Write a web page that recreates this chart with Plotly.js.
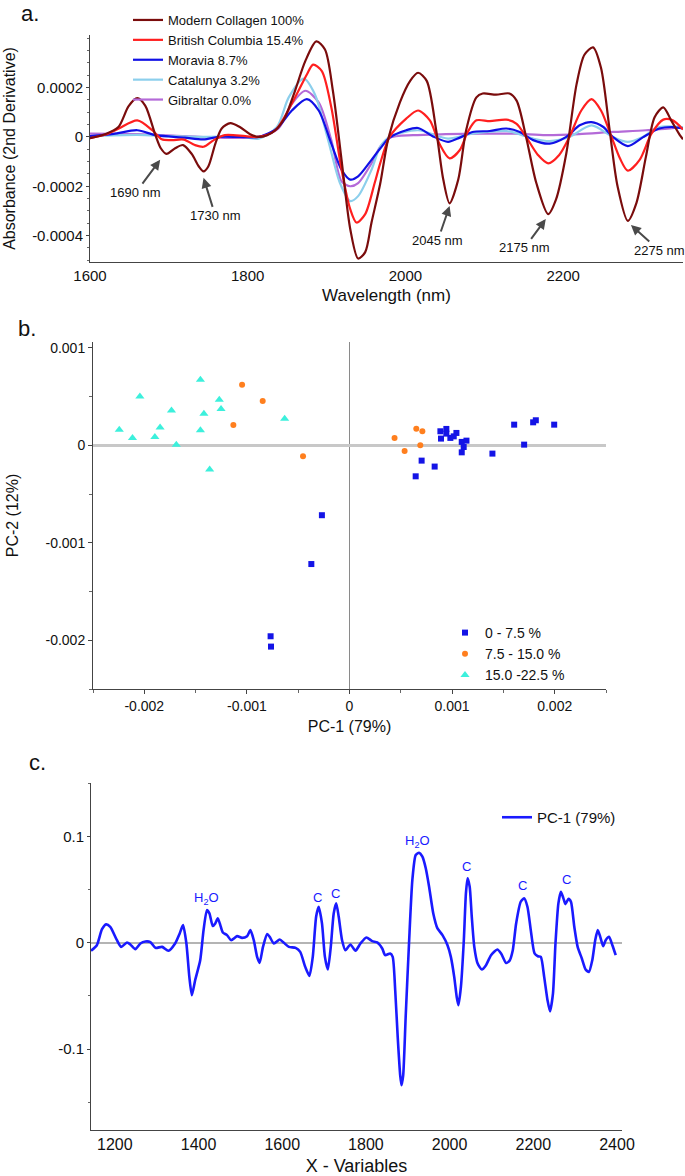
<!DOCTYPE html>
<html>
<head>
<meta charset="utf-8">
<script src="https://cdn.plot.ly/plotly-3.0.1.min.js"></script>
<style>html,body{margin:0;padding:0;background:#fff;}#chart{width:685px;height:1176px;}</style>
</head>
<body>
<div id="chart"></div>
<script>
// ---------- Panel a: 2nd derivative spectra ----------
const seriesNames = ['Modern Collagen 100%', 'British Columbia 15.4%', 'Moravia 8.7%', 'Catalunya 3.2%', 'Gibraltar 0.0%'];

const modernX = [1600,1619,1636,1649,1660,1670,1683,1690,1697,1708,1718,1729,1738,1744,1750,1759,1767,1778,1790,1803,1814,1824,1835,1847,1860,1873,1887,1898,1908,1919,1930,1940,1949,1957,1968,1978,1993,2006,2016,2027,2039,2048,2056,2067,2077,2090,2098,2115,2132,2141,2153,2166,2181,2191,2204,2217,2227,2238,2248,2259,2269,2282,2293,2305,2316,2327,2337,2348,2352];
const modernY = [-5e-6,11e-6,40e-6,125e-6,157e-6,127e-6,7e-6,-47e-6,-69e-6,-46e-6,-33e-6,-69e-6,-120e-6,-140e-6,-120e-6,-27e-6,34e-6,56e-6,40e-6,11e-6,0,6e-6,27e-6,78e-6,187e-6,307e-6,387e-6,354e-6,187e-6,-93e-6,-373e-6,-493e-6,-467e-6,-347e-6,-190e-6,-10e-6,140e-6,227e-6,260e-6,227e-6,27e-6,-173e-6,-269e-6,-173e-6,27e-6,160e-6,176e-6,171e-6,176e-6,147e-6,0,-187e-6,-313e-6,-253e-6,-67e-6,213e-6,333e-6,363e-6,280e-6,27e-6,-200e-6,-340e-6,-267e-6,-80e-6,80e-6,120e-6,67e-6,7e-6,-10e-6];

const britishX = [1600,1620,1636,1660,1679,1691,1704,1719,1733,1744,1757,1771,1797,1814,1835,1860,1875,1883,1894,1906,1919,1930,1938,1949,1961,1968,1980,2001,2016,2031,2043,2056,2069,2079,2090,2107,2128,2141,2153,2168,2181,2195,2208,2223,2236,2248,2261,2272,2282,2297,2312,2327,2339,2352];
const britishY = [-5e-6,10e-6,33e-6,67e-6,27e-6,-10e-6,-13e-6,-11e-6,-33e-6,-40e-6,-13e-6,7e-6,3e-6,0,27e-6,160e-6,253e-6,293e-6,267e-6,120e-6,-133e-6,-293e-6,-347e-6,-313e-6,-187e-6,-107e-6,0,74e-6,107e-6,67e-6,-27e-6,-87e-6,-53e-6,20e-6,67e-6,64e-6,70e-6,53e-6,0,-73e-6,-107e-6,-73e-6,0,107e-6,153e-6,107e-6,3e-6,-87e-6,-137e-6,-93e-6,13e-6,70e-6,67e-6,30e-6];

const moraviaX = [1600,1630,1660,1683,1720,1744,1763,1790,1814,1837,1856,1875,1890,1906,1919,1930,1940,1957,1968,1980,2001,2016,2035,2054,2069,2085,2107,2128,2145,2162,2183,2204,2221,2236,2251,2263,2282,2301,2322,2339,2352];
const moraviaY = [3e-6,12e-6,27e-6,7e-6,-3e-6,-10e-6,0,0,0,34e-6,107e-6,153e-6,107e-6,-27e-6,-133e-6,-173e-6,-160e-6,-93e-6,-47e-6,-3e-6,27e-6,36e-6,2e-6,-20e-6,-3e-6,20e-6,24e-6,34e-6,20e-6,-13e-6,-27e-6,0,47e-6,60e-6,40e-6,0,-37e-6,-2e-6,34e-6,40e-6,34e-6];

const catalunyaX = [1600,1660,1700,1744,1790,1814,1837,1852,1871,1885,1902,1917,1930,1940,1957,1968,1980,2016,2054,2085,2128,2162,2183,2208,2236,2263,2282,2301,2322,2352];
const catalunyaY = [3e-6,8e-6,3e-6,0,2e-6,-7e-6,40e-6,160e-6,236e-6,174e-6,-13e-6,-187e-6,-260e-6,-240e-6,-133e-6,-40e-6,0,27e-6,-7e-6,13e-6,24e-6,-7e-6,-17e-6,0,47e-6,0,-20e-6,0,40e-6,40e-6];

const gibraltarX = [1600,1660,1720,1763,1814,1839,1856,1873,1890,1906,1919,1930,1940,1957,1968,1980,2010,2051,2094,2140,2178,2220,2263,2305,2352];
const gibraltarY = [13e-6,11e-6,3e-6,-3e-6,0,34e-6,134e-6,187e-6,140e-6,-13e-6,-180e-6,-200e-6,-187e-6,-107e-6,-40e-6,-3e-6,7e-6,11e-6,13e-6,13e-6,7e-6,11e-6,20e-6,27e-6,40e-6];

const aXTicks = [1600, 1800, 2000, 2200];
const aYTicks = [0.0002, 0, -0.0002, -0.0004];
const aYTickText = ['0.0002', '0', '-0.0002', '-0.0004'];

const peakLabels = ['1690 nm', '1730 nm', '2045 nm', '2175 nm', '2275 nm'];
const peakHeadX = [1689, 1744, 2056, 2178, 2286];
const peakHeadY = [-0.000093, -0.000166, -0.00028, -0.000333, -0.000357];
const peakTextX = [1658, 1759, 2041, 2151, 2322];
const peakTextY = [-0.000226, -0.00032, -0.00042, -0.00045, -0.00046];

// ---------- Panel b: PCA scores ----------
const groupNames = ['0 - 7.5 %', '7.5 - 15.0 %', '15.0 -22.5 %'];
const lowPC1 = [-0.000269,-0.000372,-0.000769,-0.000765,0.000886,0.000944,0.000944,0.000892,0.000983,0.001016,0.001042,0.001094,0.00114,0.001113,0.001094,0.000703,0.00083,0.000645,0.001393,0.001605,0.001702,0.00179,0.001816,0.001995];
const lowPC2 = [-0.000717,-0.001218,-0.001959,-0.002065,0.000144,0.000168,0.00012,0.000069,0.000076,0.000092,0.000127,0.000035,0.000048,-0.000017,-0.000072,-0.000157,-0.000218,-0.000318,-0.000085,0.000212,0.000007,0.000236,0.000257,0.000212];
const midPC1 = [-0.001047,-0.000846,-0.001132,-0.000453,0.000439,0.000537,0.000651,0.00071,0.00069];
const midPC2 = [0.000621,0.000454,0.000208,-0.000113,0.000076,-0.000058,0.000171,0.000144,0.0];
const highPC1 = [-0.002244,-0.002115,-0.002043,-0.001897,-0.001846,-0.001735,-0.001688,-0.001453,-0.001453,-0.001419,-0.001269,-0.001252,-0.001363,-0.000632];
const highPC2 = [0.00016,0.000075,0.000502,0.000085,0.000184,0.000358,0.000007,0.000672,0.000154,0.000324,0.000468,0.000372,-0.000249,0.000273];

const bXTicks = [-0.002, -0.001, 0, 0.001, 0.002];
const bXTickText = ['-0.002', '-0.001', '0', '0.001', '0.002'];
const bYTicks = [0.001, 0, -0.001, -0.002];
const bYTickText = ['0.001', '0', '-0.001', '-0.002'];

// ---------- Panel c: PC-1 loadings ----------
const loadX = [1143,1157,1169,1179,1189,1205,1215,1229,1237,1249,1261,1273,1285,1297,1313,1328,1344,1355,1363,1371,1378,1384,1392,1404,1412,1420,1426,1434,1440,1446,1452,1458,1468,1478,1492,1504,1516,1524,1532,1540,1546,1554,1564,1570,1580,1594,1604,1616,1632,1643,1655,1665,1673,1681,1687,1695,1702,1709,1716,1723,1729,1735,1743,1751,1763,1775,1787,1801,1815,1827,1839,1846,1858,1864,1870,1876,1882,1885,1889,1895,1903,1911,1919,1927,1935,1943,1951,1961,1971,1983,1995,2003,2011,2017,2021,2027,2034,2039,2043,2048,2053,2059,2067,2077,2087,2099,2114,2123,2135,2143,2151,2159,2170,2178,2186,2194,2203,2211,2218,2226,2234,2240,2247,2253,2260,2266,2272,2277,2284,2290,2298,2306,2316,2325,2333,2341,2348,2354,2360,2367,2373,2381,2389,2397];
const loadY = [-0.0075,-0.0022,0.0126,0.0174,0.0151,0.0025,-0.0038,0.0003,-0.0015,-0.006,-0.0006,0.0013,0.0007,-0.0047,-0.0038,-0.0075,-0.0006,0.0089,0.0167,-0.0006,-0.032,-0.0493,-0.035,-0.0163,0.012,0.0308,0.0277,0.0158,0.0183,0.023,0.0167,0.0098,0.0073,0.0025,0.0063,0.0047,0.0063,0.012,0.0025,-0.0132,-0.0189,-0.0038,0.0082,0.0057,-0.0006,0.0032,0,-0.0038,-0.0047,-0.0085,-0.0226,-0.0311,-0.0132,0.0245,0.034,0.0183,-0.0132,-0.0251,-0.0038,0.0277,0.0372,0.0245,0.0025,-0.0069,-0.0015,-0.0075,-0.0006,0.0051,0.0016,0.0004,-0.0053,-0.0116,-0.01,-0.0132,-0.0446,-0.0887,-0.125,-0.134,-0.125,-0.0698,-0.0006,0.0592,0.0827,0.0849,0.0811,0.0702,0.0528,0.0277,0.0136,0.0073,-0.0022,-0.0132,-0.032,-0.051,-0.0588,-0.0415,0.0025,0.0466,0.0608,0.0528,0.0245,-0.0038,-0.0195,-0.0251,-0.021,-0.0116,-0.0063,-0.01,-0.0189,-0.017,-0.0069,0.0183,0.0387,0.0419,0.034,0.012,-0.01,-0.0126,-0.0132,-0.032,-0.054,-0.0645,-0.0478,-0.0006,0.0372,0.0481,0.0419,0.0365,0.0415,0.0387,0.0151,-0.0038,-0.0147,-0.0251,-0.0274,-0.0163,0.0025,0.012,0.0057,-0.0031,0.0025,0.0057,-0.0022,-0.0116];

const cXTicks = [1200, 1400, 1600, 1800, 2000, 2200, 2400];
const cYTicks = [0.1, 0, -0.1];
const cYTickText = ['0.1', '0', '-0.1'];

const bandLabels = ['H<sub>2</sub>O', 'C', 'C', 'H<sub>2</sub>O', 'C', 'C', 'C'];
const bandX = [1420, 1684, 1728, 1923, 2041, 2175, 2280];
const bandY = [0.0419, 0.0428, 0.0466, 0.0953, 0.0717, 0.0544, 0.0598];

// ---------- styles ----------
const FONT = 'Liberation Sans, Arial, sans-serif';
const W = 685, H = 1176;
const px = v => v / W;
const py = v => 1 - v / H;

const specColors = ['#7a0c0c', '#ff1f1f', '#1010e6', '#8ccfec', '#b46ad8'];
const specX = [modernX, britishX, moraviaX, catalunyaX, gibraltarX];
const specY = [modernY, britishY, moraviaY, catalunyaY, gibraltarY];
const drawOrder = [4, 3, 2, 1, 0];

const traces = [];
drawOrder.forEach(i => {
  traces.push({
    type: 'scatter', mode: 'lines', x: specX[i], y: specY[i], name: seriesNames[i],
    line: {color: specColors[i], width: 2.2, shape: 'spline', smoothing: 0.8},
    xaxis: 'x', yaxis: 'y', legend: 'legend', legendrank: i + 1, hoverinfo: 'skip'
  });
});

traces.push({type: 'scatter', mode: 'markers', x: lowPC1, y: lowPC2, name: groupNames[0],
  marker: {symbol: 'square', size: 6, color: '#1414e6'}, xaxis: 'x2', yaxis: 'y2', legend: 'legend2', legendrank: 1});
traces.push({type: 'scatter', mode: 'markers', x: midPC1, y: midPC2, name: groupNames[1],
  marker: {symbol: 'circle', size: 6, color: '#ff7f1e'}, xaxis: 'x2', yaxis: 'y2', legend: 'legend2', legendrank: 2});
traces.push({type: 'scatter', mode: 'markers', x: highPC1, y: highPC2, name: groupNames[2],
  marker: {symbol: 'triangle-up', size: 8, color: '#3cf0dc'}, xaxis: 'x2', yaxis: 'y2', legend: 'legend2', legendrank: 3});

traces.push({type: 'scatter', mode: 'lines', x: loadX, y: loadY, name: 'PC-1 (79%)',
  line: {color: '#1a1aff', width: 2.6, shape: 'spline', smoothing: 0.6},
  xaxis: 'x3', yaxis: 'y3', legend: 'legend3'});

const annotations = [];
peakLabels.forEach((t, i) => {
  annotations.push({xref: 'x', yref: 'y', axref: 'x', ayref: 'y', x: peakHeadX[i], y: peakHeadY[i],
    ax: peakTextX[i], ay: peakTextY[i], text: t, showarrow: true, arrowhead: 2, arrowsize: 1,
    arrowwidth: 2, arrowcolor: '#4a4a4a', standoff: 0, startstandoff: 0,
    font: {family: FONT, size: 13, color: '#111'}});
});
bandLabels.forEach((t, i) => {
  annotations.push({xref: 'x3', yref: 'y3', x: bandX[i], y: bandY[i], text: t, showarrow: false,
    font: {family: FONT, size: 13, color: '#1a1aff'}});
});
[['a.', 30, 13], ['b.', 27, 328], ['c.', 37, 762]].forEach(p => {
  annotations.push({xref: 'paper', yref: 'paper', x: px(p[1]), y: py(p[2]), text: p[0], showarrow: false,
    xanchor: 'center', yanchor: 'middle', font: {family: FONT, size: 22, color: '#111'}});
});

const axisBase = {showgrid: false, zeroline: false, showline: true, linecolor: '#444', linewidth: 1,
  tickfont: {family: FONT, size: 15, color: '#111'}, ticks: 'outside', ticklen: 4, tickcolor: '#444', fixedrange: true};

const layout = {
  width: W, height: H, margin: {l: 0, r: 0, t: 0, b: 0},
  paper_bgcolor: '#ffffff', plot_bgcolor: 'rgba(0,0,0,0)',
  font: {family: FONT, color: '#111'},
  showlegend: true,
  xaxis: Object.assign({}, axisBase, {domain: [px(90), px(683)], range: [1600, 2352], anchor: 'y',
    tickvals: aXTicks, ticks: '', title: {text: 'Wavelength (nm)', font: {family: FONT, size: 17}, standoff: 6}}),
  yaxis: Object.assign({}, axisBase, {domain: [py(262), py(35)], range: [-0.000507, 0.000413], anchor: 'x',
    tickvals: aYTicks, ticktext: aYTickText, ticklen: 3,
    minor: {dtick: 0.00005, ticks: 'outside', ticklen: 2, tickcolor: '#666'},
    title: {text: 'Absorbance (2nd Derivative)', font: {family: FONT, size: 16}, standoff: 12}}),
  xaxis2: Object.assign({}, axisBase, {domain: [px(93), px(606)], range: [-0.0025, 0.0025], anchor: 'y2',
    tickvals: bXTicks, ticktext: bXTickText, tickfont: {family: FONT, size: 14, color: '#111'},
    zeroline: true, zerolinecolor: '#8a8a8a', zerolinewidth: 1,
    minor: {dtick: 0.0005, ticks: 'outside', ticklen: 3, tickcolor: '#666'},
    title: {text: 'PC-1 (79%)', font: {family: FONT, size: 16}, standoff: 8}}),
  yaxis2: Object.assign({}, axisBase, {domain: [py(689), py(342)], range: [-0.0025, 0.00106], anchor: 'x2',
    tickvals: bYTicks, ticktext: bYTickText, tickfont: {family: FONT, size: 14, color: '#111'},
    zeroline: true, zerolinecolor: '#c8c8c8', zerolinewidth: 2.5,
    minor: {dtick: 0.0005, ticks: 'outside', ticklen: 3, tickcolor: '#666'},
    title: {text: 'PC-2 (12%)', font: {family: FONT, size: 16}, standoff: 22}}),
  xaxis3: Object.assign({}, axisBase, {domain: [px(91), px(622)], range: [1143, 2412], anchor: 'y3',
    tickvals: cXTicks, ticks: '', tickfont: {family: FONT, size: 16, color: '#111'},
    title: {text: 'X - Variables', font: {family: FONT, size: 18}, standoff: 10}}),
  yaxis3: Object.assign({}, axisBase, {domain: [py(1130), py(783)], range: [-0.1762, 0.1505], anchor: 'x3',
    tickvals: cYTicks, ticktext: cYTickText, ticklen: 3,
    zeroline: true, zerolinecolor: '#b4b4b4', zerolinewidth: 1.5,
    minor: {dtick: 0.05, ticks: 'outside', ticklen: 2, tickcolor: '#666'}}),
  legend: {x: px(128), y: py(5), xanchor: 'left', yanchor: 'top', bgcolor: 'rgba(0,0,0,0)',
    font: {family: FONT, size: 13, color: '#111'}, traceorder: 'normal'},
  legend2: {x: px(445), y: py(617), xanchor: 'left', yanchor: 'top', bgcolor: 'rgba(0,0,0,0)',
    font: {family: FONT, size: 14, color: '#111'}, traceorder: 'normal'},
  legend3: {x: px(497), y: py(801), xanchor: 'left', yanchor: 'top', bgcolor: 'rgba(0,0,0,0)',
    font: {family: FONT, size: 15, color: '#111'}},
  annotations: annotations
};

Plotly.newPlot('chart', traces, layout, {displayModeBar: false, staticPlot: true});
</script>
</body>
</html>
